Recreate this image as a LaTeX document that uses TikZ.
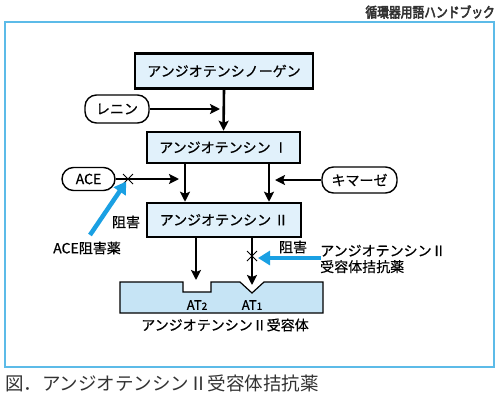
\documentclass[tikz,border=0pt]{standalone}
\usepackage{fontspec}
\setmainfont[FakeBold=0.6]{Noto Sans CJK JP}
\newfontfamily\hdrfont[FakeBold=4]{Noto Sans CJK JP}
\newfontfamily\capfont{Noto Sans CJK JP}
\usetikzlibrary{arrows.meta,calc}
\definecolor{boxfill}{HTML}{E1F1FB}
\definecolor{recfill}{HTML}{C6E4F5}
\definecolor{inhblue}{HTML}{1AA0E3}
\definecolor{framecol}{HTML}{5CBBE8}
\definecolor{txtgray}{HTML}{333333}
\tikzset{
  stepbox/.style={draw=black, line width=2.5pt, fill=boxfill, inner sep=0pt,
    font=\fontsize{14}{16}\selectfont},
  pill/.style={draw=black, line width=1.4pt, rounded corners=11.5pt, fill=white,
    inner sep=0pt, font=\fontsize{14}{16}\selectfont},
  arr/.style={line width=2.6pt, -{Stealth[length=10pt,width=10pt,inset=2pt]}},
  inh/.style={line width=4.5pt, color=inhblue, -{Triangle[length=12pt,width=14pt]}},
  lbl/.style={inner sep=0pt, font=\fontsize{14}{16}\selectfont},
  xmark/.style={line width=1pt}
}
\newcommand{\subdig}[1]{{\fontsize{10}{12}\selectfont #1}}
\begin{document}
\begin{tikzpicture}[x=1pt,y=-1pt]
\useasboundingbox (0,0) rectangle (500,400);
\fill[white] (0,0) rectangle (500,400);
% header and frame
\node[anchor=east, inner sep=0pt, text=txtgray, xscale=0.84, font=\hdrfont\fontsize{14}{16}\selectfont] (hdr) at (495,12) {循環器用語ハンドブック};
\draw[framecol, line width=1.3pt] (5,22) rectangle (494,367);
% main boxes
\node[stepbox, minimum width=178pt, minimum height=35pt] (b1) at (224,71) {アンジオテンシノーゲン};
\node[stepbox, minimum width=153pt, minimum height=31pt] (b2) at (223.5,147.5) {アンジオテンシン\ Ⅰ};
\node[stepbox, minimum width=154pt, minimum height=34pt] (b3) at (224,220) {アンジオテンシン\ Ⅱ};
% enzymes
\node[pill, minimum width=64pt, minimum height=28pt] (ren) at (117,109) {レニン};
\node[pill, minimum width=53pt, minimum height=23pt] (ace) at (88.5,179) {ACE};
\node[pill, minimum width=75pt, minimum height=26pt] (kim) at (359.5,180) {キマーゼ};
% junction coordinates
\coordinate (j1) at (185,179);
\coordinate (j2) at (269,180);
\coordinate (x1) at (128,179);
\coordinate (l1) at (196,237);
\coordinate (l2) at (252,237);
\coordinate (x2) at (252,256);
\coordinate (t1) at (196,280);
\coordinate (t2) at (252,285);
\coordinate (bA) at (90,235);
\coordinate (bB) at (321,258);
% arrows
\draw[arr] (b1.south) -- (b2.north);
\draw[arr, shorten >=4pt] (ren.east) -- (b1.south |- ren.east);
\draw[arr] (b2.south -| j1) -- (b3.north -| j1);
\draw[arr] (b2.south -| j2) -- (b3.north -| j2);
\draw[arr, shorten >=6pt] (ace.east) -- (j1);
\draw[arr, shorten >=6pt] (kim.west) -- (j2);
\draw[arr] (l1) -- (t1);
\draw[arr] (l2) -- (t2);
% cross marks
\draw[xmark] ($(x1)+(-5,-5)$) -- ($(x1)+(5,5)$) ($(x1)+(-5,5)$) -- ($(x1)+(5,-5)$);
\draw[xmark] ($(x2)+(-5,-5)$) -- ($(x2)+(5,5)$) ($(x2)+(-5,5)$) -- ($(x2)+(5,-5)$);
% inhibitor arrows
\draw[inh, shorten >=3pt] (bA) -- (x1);
\draw[inh, shorten >=6pt] (bB) -- (x2 |- bB);
% labels
\node[lbl] (inh1) at (126,222) {阻害};
\node[lbl] (aceinh) at (87,248) {ACE阻害薬};
\node[lbl] (inh2) at (293,247) {阻害};
\node[lbl, anchor=west, align=left, font=\fontsize{14}{16}\selectfont] (arb) at (320,259) {アンジオテンシンⅡ\\受容体拮抗薬};
% receptor
\draw[line width=1.2pt, fill=recfill] (120,282) -- (183,282) -- (183,292) -- (211,292) -- (211,282) -- (240,282) -- (252,293) -- (264,282) -- (323,282) -- (323,313) -- (120,313) -- cycle;
\node[lbl, font=\fontsize{13}{15}\selectfont] (at2) at (197,305) {AT\subdig{2}};
\node[lbl, font=\fontsize{13}{15}\selectfont] (at1) at (252,305) {AT\subdig{1}};
\node[lbl] (rec) at (225,325) {アンジオテンシンⅡ受容体};
% caption
\node[anchor=west, inner sep=0pt, text=txtgray, font=\capfont\fontsize{18.5}{20}\selectfont] (cap) at (5,383) {図．アンジオテンシンⅡ受容体拮抗薬};
\end{tikzpicture}
\end{document}
